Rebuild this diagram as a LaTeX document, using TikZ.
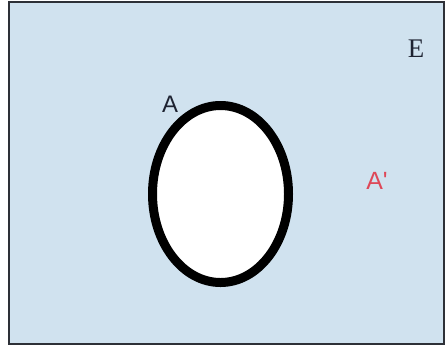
\documentclass[tikz,border=0pt]{standalone}
\usepackage{fontspec}
\usetikzlibrary{shapes.geometric}
\setmainfont{Liberation Serif}
\newfontfamily\plainsans{Liberation Sans}
\definecolor{bgblue}{RGB}{208,226,239}
\definecolor{framegray}{RGB}{45,48,55}
\definecolor{labelred}{RGB}{222,72,88}
\definecolor{labeldark}{RGB}{30,35,50}
\begin{document}
\begin{tikzpicture}[x=1bp,y=-1bp,
  lbl/.style={inner sep=0pt,anchor=center},
  setline/.style={line width=9bp,draw=black,fill=white}]
\useasboundingbox (0,0) rectangle (445,349);
\fill[white] (0,0) rectangle (445,349);
\draw[fill=bgblue,draw=framegray,line width=1.8bp] (9,2) rectangle (444,344);
\node[setline,ellipse,minimum width=136bp,minimum height=177bp,inner sep=0pt] (setA) at (220.5,194) {};
\node[lbl,font=\fontsize{27}{31}\selectfont\rmfamily,text=labeldark] (E) at (416,49) {E};
\node[lbl,font=\fontsize{24}{28}\selectfont\plainsans,text=labeldark] (labA) at (170,104) {A};
\node[lbl,font=\fontsize{25}{29}\selectfont\plainsans,text=labelred] (labAc) at (377,181) {A'};
\end{tikzpicture}
\end{document}
